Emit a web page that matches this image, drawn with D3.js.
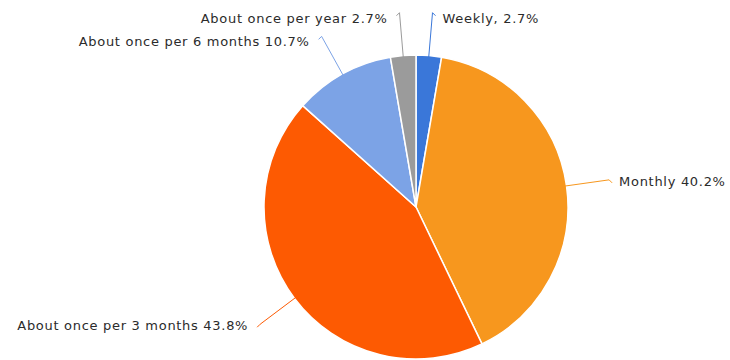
<!DOCTYPE html>
<html>
<head>
<meta charset="utf-8">
<script src="https://cdn.jsdelivr.net/npm/d3@7"></script>
<style>
  html, body { margin: 0; padding: 0; background: #fff; }
  svg { display: block; }
</style>
</head>
<body>
<svg id="chart" width="730" height="360"></svg>
<script>
const categories = ["Weekly", "Monthly", "About once per 3 months", "About once per 6 months", "About once per year"];
const values = [2.7, 40.2, 43.8, 10.7, 2.7];
const labelTexts = ["Weekly, 2.7%", "Monthly 40.2%", "About once per 3 months 43.8%", "About once per 6 months 10.7%", "About once per year 2.7%"];
const colors = ["#3a77d9", "#f7971e", "#fd5a02", "#7ca3e6", "#9b9b9b"];

const W = 730, H = 360;
const cx = 416, cy = 207, R = 152, Rout = 195;

const svg = d3.select("#chart");
const g = svg.append("g").attr("transform", `translate(${cx},${cy})`);

const data = categories.map((c, i) => ({ name: c, value: values[i], label: labelTexts[i], color: colors[i] }));
const pie = d3.pie().value(d => d.value).sort(null);
const arcs = pie(data);
const arc = d3.arc().innerRadius(0).outerRadius(R);

g.selectAll("path.slice").data(arcs).enter().append("path")
  .attr("class", "slice")
  .attr("d", arc)
  .attr("fill", d => d.data.color)
  .attr("stroke", "#fff")
  .attr("stroke-width", 1.5);

function pt(a, r) { return [r * Math.sin(a), -r * Math.cos(a)]; }

arcs.forEach(d => {
  const a = (d.startAngle + d.endAngle) / 2;
  const p0 = pt(a, R - 2);
  const p1 = pt(a, Rout);
  const right = Math.sin(a) >= 0;
  const hook = [p1[0] + (right ? 3 : -3), p1[1] + 3];
  g.append("polyline")
    .attr("points", [p0, p1, hook].map(p => p.join(",")).join(" "))
    .attr("fill", "none")
    .attr("stroke", d.data.color)
    .attr("stroke-width", 1);
  g.append("text")
    .attr("x", p1[0] + (right ? 10 : -12))
    .attr("y", p1[1] + 6 + 4 * Math.max(0, Math.cos(a)))
    .attr("text-anchor", right ? "start" : "end")
    .attr("font-family", "DejaVu Sans, sans-serif")
    .attr("font-size", 13)
    .attr("letter-spacing", 0.7)
    .attr("fill", "#2b2b2b")
    .text(d.data.label);
});
</script>
</body>
</html>
